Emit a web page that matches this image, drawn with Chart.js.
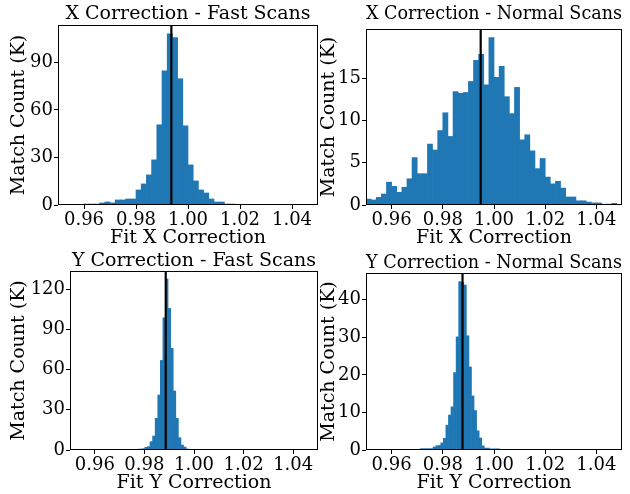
<!DOCTYPE html>
<html>
<head>
<meta charset="utf-8">
<script src="https://cdn.jsdelivr.net/npm/chart.js@4.4.0/dist/chart.umd.min.js"></script>
<style>
  body { margin: 0; background: #fff; }
  #wrap { position: relative; width: 630px; height: 494px; overflow: hidden; }
  canvas { position: absolute; }
</style>
</head>
<body>
<div id="wrap">
  <canvas id="fastX" width="325" height="250" style="left:0;top:0"></canvas>
  <canvas id="normX" width="330" height="250" style="left:300px;top:0"></canvas>
  <canvas id="fastY" width="325" height="244" style="left:0;top:250px"></canvas>
  <canvas id="normY" width="330" height="244" style="left:300px;top:250px"></canvas>
</div>
<script>
// tick labels shared by all four panels
const xTickVals = [0.96, 0.98, 1.00, 1.02, 1.04];

// X correction, fast scans (counts in K, bins of 0.002 starting at 0.960)
const fastXStart = 0.960, fastXWidth = 0.002;
const fastXCounts = [0.6, 0.6, 0.6, 1.3, 1.9, 1.3, 3.2, 3.2, 3.8, 3.8, 9.5, 13.3, 19, 28.5, 50.6,
  84.7, 108.1, 105.6, 79.7, 50, 25.3, 15.2, 9.5, 7.6, 3.8, 1.9, 1.9, 0.6, 0.6];
const fastXMean = 0.9936;
const fastXYTicks = [0, 30, 60, 90];
const fastXYMax = 113.6;

// X correction, normal scans
const normXStart = 0.950, normXWidth = 0.002;
const normXCounts = [0.7, 0.6, 0.9, 1.3, 2.7, 2.2, 1.5, 2.1, 3.1, 5.6,
  3.7, 3.7, 7.2, 6.5, 8.8, 10.9, 8.1, 13.4, 13.2, 13.3,
  14.6, 17.1, 17.8, 14.2, 19.8, 15.1, 16.4, 12.8, 10.8, 13.9,
  7.7, 8.3, 6.4, 4.3, 5.5, 3.3, 2.5, 2.8, 2.0, 0.95,
  0.95, 0.5, 0.5, 0.35, 0.25, 0.25, 0.1, 0.1, 0.2, 0.05];
const normXMean = 0.9948;
const normXYTicks = [0, 5, 10, 15];
const normXYMax = 20.8;

// Y correction, fast scans
const fastYStart = 0.97706, fastYWidth = 0.00104;
const fastYCounts = [0.6, 0.7, 0.9, 2.0, 2.5, 6.2, 10.4, 23.6, 41, 66.8, 98.6,
  127.5, 105.6, 75.8, 44, 23.6, 9.2, 3.7, 2.2, 0.75, 0.5];
const fastYMean = 0.9886;
const fastYYTicks = [0, 30, 60, 90, 120];
const fastYYMax = 133.5;

// Y correction, normal scans
const normYStart = 0.9712, normYWidth = 0.001;
const normYCounts = [0.35, 0.35, 0.35, 0.35, 0.35, 0.8, 1.1, 1.2, 1.9, 3.1,
  6.6, 9.3, 11.5, 20.6, 30.1, 44.8, 44.6, 43.9, 30.4, 22.1,
  14.4, 10.5, 5.1, 3.2, 1.1, 0.5, 0.5, 0.3, 0.3, 0.3, 0.3];
const normYMean = 0.9877;
const normYYTicks = [0, 10, 20, 30, 40];
const normYYMax = 47.1;

Chart.defaults.font.family = "'DejaVu Serif', serif";
Chart.defaults.color = '#000';

// box around the plot area, like matplotlib spines
const frame = {
  id: 'frame',
  afterDatasetsDraw(chart) {
    const a = chart.chartArea, ctx = chart.ctx;
    ctx.save();
    ctx.strokeStyle = '#000';
    ctx.lineWidth = 1;
    ctx.strokeRect(Math.round(a.left) + 0.5, Math.round(a.top) + 0.5,
      Math.round(a.right - a.left) - 1, Math.round(a.bottom - a.top) - 1);
    ctx.restore();
  }
};

function makeHist(id, o) {
  const pts = o.counts.map((c, i) => ({ x: o.start + o.width * (i + 0.5), y: c }));
  return new Chart(document.getElementById(id), {
    type: 'bar',
    data: {
      datasets: [
        {
          type: 'line',
          data: [{ x: o.mean, y: 0 }, { x: o.mean, y: o.ymax }],
          borderColor: '#000',
          borderWidth: 2.2,
          pointRadius: 0,
          order: 0
        },
        {
          data: pts,
          backgroundColor: '#1f77b4',
          borderWidth: 0,
          barPercentage: 1,
          categoryPercentage: 1,
          order: 1
        }
      ]
    },
    options: {
      responsive: false,
      animation: false,
      devicePixelRatio: 1,
      layout: { padding: { left: 0, top: 0, bottom: 0, right: o.padRight } },
      plugins: {
        legend: { display: false },
        tooltip: { enabled: false },
        title: {
          display: true,
          fullSize: false,
          text: o.title,
          color: '#000',
          font: { size: 19, weight: 'normal', lineHeight: 1 },
          padding: { top: o.titleTop, bottom: o.titleBottom }
        }
      },
      scales: {
        x: {
          type: 'linear',
          min: 0.95,
          max: 1.05,
          offset: false,
          grid: { display: true, drawOnChartArea: false, drawTicks: true, tickLength: 4, color: '#000', offset: false },
          border: { display: false },
          ticks: {
            color: '#000', font: { size: 18, lineHeight: 1 }, padding: 2,
            maxRotation: 0, autoSkip: false,
            callback: v => v.toFixed(2)
          },
          afterBuildTicks: s => { s.ticks = xTickVals.map(v => ({ value: v })); },
          afterFit: s => { s.height = o.xAxisH; },
          title: {
            display: true, text: o.xlabel, color: '#000',
            font: { size: 19, lineHeight: 1.2 },
            padding: { top: 0, bottom: o.xTitleBottom }
          }
        },
        y: {
          type: 'linear',
          min: 0,
          max: o.ymax,
          grid: { display: true, drawOnChartArea: false, drawTicks: true, tickLength: 4, color: '#000' },
          border: { display: false },
          ticks: { color: '#000', font: { size: 18, lineHeight: 1 }, padding: 1, autoSkip: false },
          afterBuildTicks: s => { s.ticks = o.yTicks.map(v => ({ value: v })); },
          afterFit: s => { s.width = o.yAxisW; },
          title: {
            display: true, text: 'Match Count (K)', color: '#000',
            font: { size: 19, lineHeight: 1.2 },
            padding: { top: o.yTitleTop, bottom: 0 }
          }
        }
      }
    },
    plugins: [frame]
  });
}

makeHist('fastX', {
  title: 'X Correction - Fast Scans', xlabel: 'Fit X Correction',
  start: fastXStart, width: fastXWidth, counts: fastXCounts, mean: fastXMean,
  ymax: fastXYMax, yTicks: fastXYTicks,
  padRight: 7, titleTop: 5, titleBottom: 1, xAxisH: 45, xTitleBottom: 0.6, yAxisW: 58, yTitleTop: 7.6
});
makeHist('normX', {
  title: 'X Correction - Normal Scans', xlabel: 'Fit X Correction',
  start: normXStart, width: normXWidth, counts: normXCounts, mean: normXMean,
  ymax: normXYMax, yTicks: normXYTicks,
  padRight: 8, titleTop: 5, titleBottom: 5, xAxisH: 45, xTitleBottom: 0.6, yAxisW: 66, yTitleTop: 17.6
});
makeHist('fastY', {
  title: 'Y Correction - Fast Scans', xlabel: 'Fit Y Correction',
  start: fastYStart, width: fastYWidth, counts: fastYCounts, mean: fastYMean,
  ymax: fastYYMax, yTicks: fastYYTicks,
  padRight: 7, titleTop: 2, titleBottom: 0, xAxisH: 44, xTitleBottom: 0, yAxisW: 70, yTitleTop: 7.6
});
makeHist('normY', {
  title: 'Y Correction - Normal Scans', xlabel: 'Fit Y Correction',
  start: normYStart, width: normYWidth, counts: normYCounts, mean: normYMean,
  ymax: normYYMax, yTicks: normYYTicks,
  padRight: 8, titleTop: 3.5, titleBottom: 0.5, xAxisH: 44, xTitleBottom: 0, yAxisW: 66, yTitleTop: 17.6
});
</script>
</body>
</html>
